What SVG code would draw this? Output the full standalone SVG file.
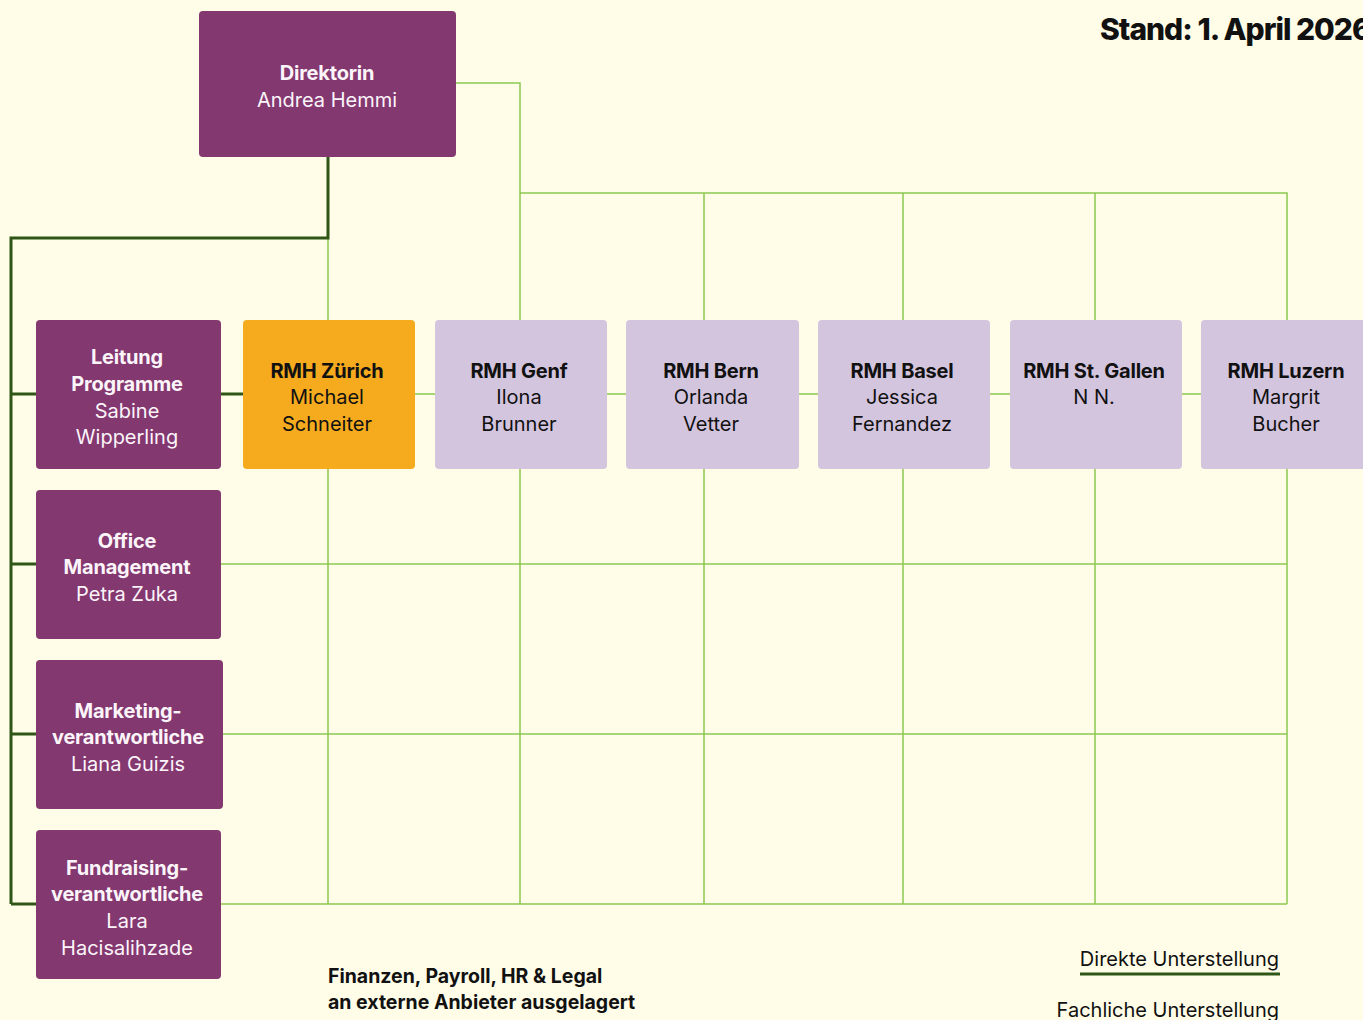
<svg xmlns="http://www.w3.org/2000/svg" width="1363" height="1020" viewBox="0 0 1363 1020">
<style>
text{font-family:Inter,"Noto Sans","Liberation Sans",sans-serif;font-size:20px;text-anchor:middle}
.b{font-weight:700;letter-spacing:-0.2px}
.w{fill:#fbf5fa}
.k{fill:#111}
.p{fill:#843870}
.o{fill:#f6ab1f}
.l{fill:#d4c5df}
.lg{stroke:#8cc84f;stroke-width:1.5;fill:none}
.dg{stroke:#2f5616;stroke-width:3;fill:none}
</style>
<rect width="1363" height="1020" fill="#fffde8"/>
<g id="connectors">
<path class="lg" d="M456 83H520V320M520 193H1287V320M704 193V320M903 193V320M1095 193V320M328 238V320"/>
<path class="lg" d="M415 394H435M607 394H626M799 394H818M990 394H1010M1182 394H1201"/>
<path class="lg" d="M328 469V904M520 469V904M704 469V904M903 469V904M1095 469V904M1287 469V904"/>
<path class="lg" d="M221 564H1287M223 734H1287M221 904H1287"/>
<path class="dg" d="M328 157V238H11V904M11 394H36M11 564H36M11 734H36M11 904H36M221 394H243"/>
</g>
<g id="direktorin"><rect class="p" x="199" y="11" width="257" height="146" rx="4"/><text class="w b" x="327" y="80">Direktorin</text><text class="w" x="327" y="107">Andrea Hemmi</text></g>
<g id="leitung"><rect class="p" x="36" y="320" width="185" height="149" rx="4"/><text class="w b" x="127" y="364">Leitung</text><text class="w b" x="127" y="391">Programme</text><text class="w" x="127" y="418">Sabine</text><text class="w" x="127" y="444">Wipperling</text></g>
<g id="office"><rect class="p" x="36" y="490" width="185" height="149" rx="4"/><text class="w b" x="127" y="548">Office</text><text class="w b" x="127" y="574">Management</text><text class="w" x="127" y="601">Petra Zuka</text></g>
<g id="marketing"><rect class="p" x="36" y="660" width="187" height="149" rx="4"/><text class="w b" x="128" y="718">Marketing-</text><text class="w b" x="128" y="744">verantwortliche</text><text class="w" x="128" y="771">Liana Guizis</text></g>
<g id="fundraising"><rect class="p" x="36" y="830" width="185" height="149" rx="4"/><text class="w b" x="127" y="875">Fundraising-</text><text class="w b" x="127" y="901">verantwortliche</text><text class="w" x="127" y="928">Lara</text><text class="w" x="127" y="955">Hacisalihzade</text></g>
<g id="zuerich"><rect class="o" x="243" y="320" width="172" height="149" rx="4"/><text class="k b" x="327" y="378">RMH Zürich</text><text class="k" x="327" y="404">Michael</text><text class="k" x="327" y="431">Schneiter</text></g>
<g id="genf"><rect class="l" x="435" y="320" width="172" height="149" rx="4"/><text class="k b" x="519" y="378">RMH Genf</text><text class="k" x="519" y="404">Ilona</text><text class="k" x="519" y="431">Brunner</text></g>
<g id="bern"><rect class="l" x="626" y="320" width="173" height="149" rx="4"/><text class="k b" x="711" y="378">RMH Bern</text><text class="k" x="711" y="404">Orlanda</text><text class="k" x="711" y="431">Vetter</text></g>
<g id="basel"><rect class="l" x="818" y="320" width="172" height="149" rx="4"/><text class="k b" x="902" y="378">RMH Basel</text><text class="k" x="902" y="404">Jessica</text><text class="k" x="902" y="431">Fernandez</text></g>
<g id="stgallen"><rect class="l" x="1010" y="320" width="172" height="149" rx="4"/><text class="k b" x="1094" y="378">RMH St. Gallen</text><text class="k" x="1094" y="404">N N.</text></g>
<g id="luzern"><rect class="l" x="1201" y="320" width="172" height="149" rx="4"/><text class="k b" x="1286" y="378">RMH Luzern</text><text class="k" x="1286" y="404">Margrit</text><text class="k" x="1286" y="431">Bucher</text></g>
<text x="1100" y="40" style="text-anchor:start;font-size:30px;font-weight:800;letter-spacing:-1px" class="k">Stand: 1. April 2026</text>
<text x="328" y="983" style="text-anchor:start;font-size:19.5px;font-weight:700" class="k">Finanzen, Payroll, HR &amp; Legal</text>
<text x="328" y="1009" style="text-anchor:start;font-size:19.5px;font-weight:700" class="k">an externe Anbieter ausgelagert</text>
<text x="1279" y="966" style="text-anchor:end" class="k">Direkte Unterstellung</text>
<path class="dg" d="M1080 974H1280"/>
<text x="1279" y="1017" style="text-anchor:end" class="k">Fachliche Unterstellung</text>
</svg>
